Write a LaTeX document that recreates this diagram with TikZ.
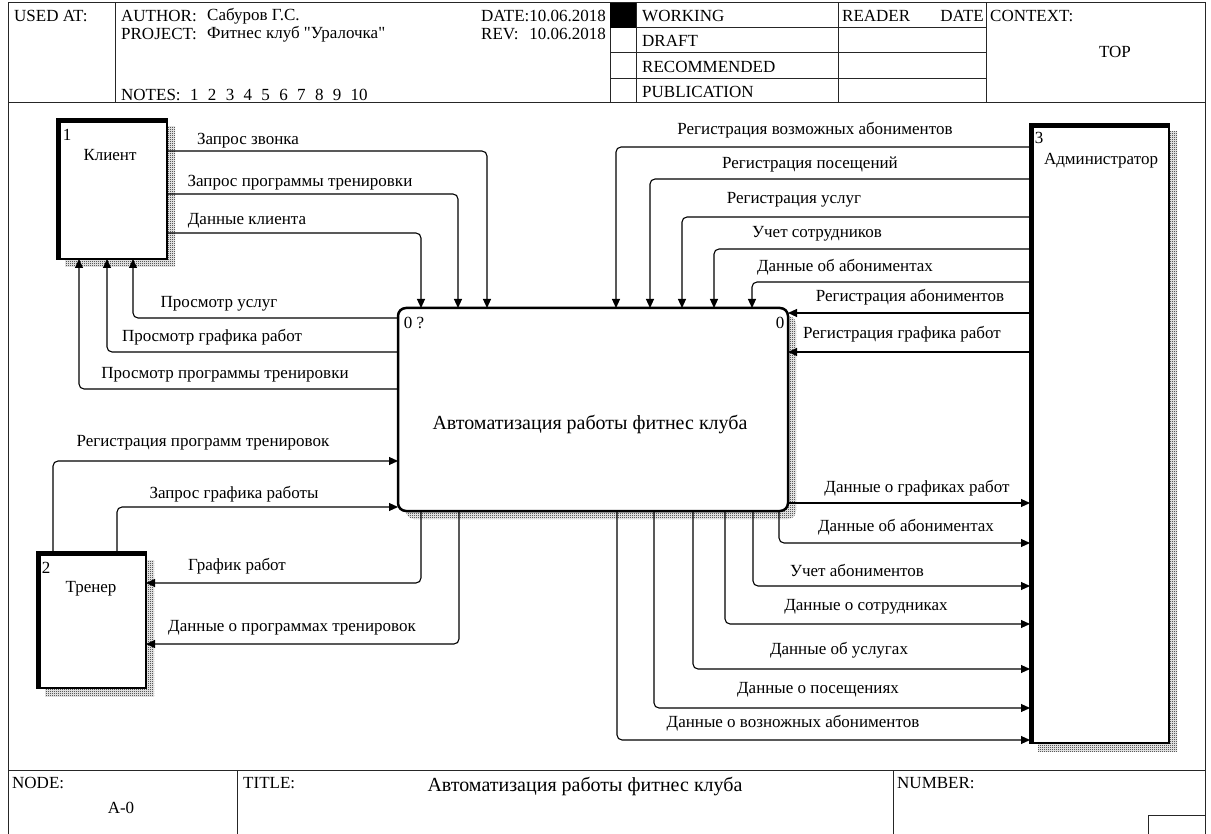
\documentclass[tikz,border=0pt]{standalone}
\usepackage{fontspec}
\setmainfont{Liberation Serif}
\usetikzlibrary{arrows.meta,patterns}

% straight double quote, set as a glyph so the TeX mapping leaves it alone
\newcommand\straightdq{\XeTeXglyph\XeTeXcharglyph"22\relax}

% fine checker used for the box shadows
\pgfdeclarepatternformonly{idefshade}{\pgfqpoint{0pt}{0pt}}{\pgfqpoint{2pt}{2pt}}{\pgfqpoint{2pt}{2pt}}{%
  \pgfpathrectangle{\pgfqpoint{0pt}{0pt}}{\pgfqpoint{1pt}{1pt}}%
  \pgfpathrectangle{\pgfqpoint{1pt}{1pt}}{\pgfqpoint{1pt}{1pt}}%
  \pgfusepath{fill}}

\tikzset{
  frameline/.style={line width=1pt, draw=black!85},
  hdr/.style={font=\fontsize{17}{20}\selectfont, inner sep=0pt, anchor=west},
  lbl/.style={font=\fontsize{17}{20}\selectfont, inner sep=0pt},
  bigtxt/.style={font=\fontsize{20}{24}\selectfont, inner sep=0pt},
  hatch/.style={preaction={draw=none, pattern=idefshade, pattern color=black,
                transform canvas={xshift=8pt,yshift=-8pt}}},
  extbox/.style={draw, fill=white, line width=2pt, outer sep=0pt, inner sep=0pt, hatch},
  actbox/.style={draw, fill=white, line width=2.5pt, rounded corners=8pt, outer sep=0pt, inner sep=0pt, hatch},
  heavyedge/.style={line width=5pt},
  flow/.style={draw, line width=1.1pt, rounded corners=5pt, -{Triangle[length=9pt,width=8pt]}},
}

\begin{document}
\begin{tikzpicture}[x=1pt,y=-1pt]
\useasboundingbox (0,0) rectangle (1211,834);

% ---------- form frame ----------
\draw[frameline] (8,838) -- (8,3) -- (1205,3) -- (1205,838);
\draw[frameline] (8,103) -- (1205,103);
\draw[frameline] (115,3) -- (115,103);
\draw[frameline] (610,3) -- (610,103);
\draw[frameline] (636,3) -- (636,103);
\draw[frameline] (838,3) -- (838,103);
\draw[frameline] (986,3) -- (986,103);
\foreach \yy in {28,53,79} \draw[frameline] (610,\yy) -- (986,\yy);
\fill[black] (610,3) rectangle (636,28);

\draw[frameline] (8,770) -- (1205,770);
\draw[frameline] (237,770) -- (237,838);
\draw[frameline] (893,770) -- (893,838);
\draw[frameline] (1148,838) -- (1148,815) -- (1205,815);

% ---------- header texts ----------
\node[hdr] (usedat) at (14,16) {USED AT:};
\node[hdr] (author) at (121,16) {AUTHOR:};
\node[hdr] (authorname) at (207,16) {Сабуров Г.С.};
\node[hdr] (project) at (121,34) {PROJECT:};
\node[hdr] (projectname) at (207,34) {Фитнес клуб \straightdq Уралочка\straightdq};
\node[hdr] (notes) at (121,95) {NOTES:\hspace{0.55em}1\hspace{0.55em}2\hspace{0.55em}3\hspace{0.55em}4\hspace{0.55em}5\hspace{0.55em}6\hspace{0.55em}7\hspace{0.55em}8\hspace{0.55em}9\hspace{0.55em}10};
\node[hdr] (date) at (481,16) {DATE:10.06.2018};
\node[hdr] (rev) at (481,34) {REV:};
\node[hdr, anchor=east] (revdate) at (606,34) {10.06.2018};
\node[hdr] (working) at (642,16) {WORKING};
\node[hdr] (draft) at (642,41) {DRAFT};
\node[hdr] (recommended) at (642,67) {RECOMMENDED};
\node[hdr] (publication) at (642,92) {PUBLICATION};
\node[hdr] (reader) at (842,16) {READER};
\node[hdr, anchor=east] (readerdate) at (984,16) {DATE};
\node[hdr] (context) at (990,16) {CONTEXT:};
\node[lbl] (top) at (1115,52) {TOP};

% ---------- footer texts ----------
\node[hdr] (nodelbl) at (12,783) {NODE:};
\node[lbl] (nodeid) at (121,808) {A-0};
\node[hdr] (titlelbl) at (243,783) {TITLE:};
\node[bigtxt] (titletxt) at (585,786) {Автоматизация работы фитнес клуба};
\node[hdr] (numberlbl) at (897,783) {NUMBER:};

% ---------- boxes ----------
\node[extbox, minimum width=110pt, minimum height=140pt] (klient) at (112,189) {};
\node[extbox, minimum width=109pt, minimum height=136pt] (trener) at (91.5,620) {};
\node[extbox, minimum width=139pt, minimum height=619pt] (admin) at (1099.5,433.5) {};
\node[actbox, minimum width=390pt, minimum height=203pt] (main) at (593,409.5) {};

\draw[heavyedge] ([xshift=1.5pt]klient.south west) -- ([xshift=1.5pt,yshift=-1.5pt]klient.north west) -- ([yshift=-1.5pt]klient.north east);
\draw[heavyedge] ([xshift=1.5pt]trener.south west) -- ([xshift=1.5pt,yshift=-1.5pt]trener.north west) -- ([yshift=-1.5pt]trener.north east);
\draw[heavyedge] ([xshift=1.5pt]admin.south west) -- ([xshift=1.5pt,yshift=-1.5pt]admin.north west) -- ([yshift=-1.5pt]admin.north east);

\node[lbl] (klientnum) at (67,135) {1};
\node[lbl] (klientname) at (110,155) {Клиент};
\node[lbl] (trenernum) at (46,568) {2};
\node[lbl] (trenername) at (91,589) {Тренер};
\node[lbl] (adminnum) at (1039,138) {3};
\node[lbl] (adminname) at (1101,161) {Администратор};
\node[lbl] (mainnum) at (414,323) {0 ?};
\node[lbl] (mainref) at (780,323) {0};
\node[bigtxt] (maintitle) at (590,425) {Автоматизация работы фитнес клуба};

% ---------- Клиент -> process ----------
\draw[flow] ([yshift=-32pt]klient.north east) -| ([xshift=89pt]main.north west);
\draw[flow] ([yshift=-75pt]klient.north east) -| ([xshift=60pt]main.north west);
\draw[flow] ([yshift=-114pt]klient.north east) -| ([xshift=23pt]main.north west);
\node[lbl] (f1) at (248,141) {Запрос звонка};
\node[lbl] (f2) at (300,183) {Запрос программы тренировки};
\node[lbl] (f3) at (247,221) {Данные клиента};

% ---------- process -> Клиент ----------
\draw[flow] ([yshift=-10pt]main.north west) -| ([xshift=76pt]klient.south west);
\draw[flow] ([yshift=-44pt]main.north west) -| ([xshift=50pt]klient.south west);
\draw[flow] ([yshift=-81pt]main.north west) -| ([xshift=22pt]klient.south west);
\node[lbl] (f4) at (219,304) {Просмотр услуг};
\node[lbl] (f5) at (212,337) {Просмотр графика работ};
\node[lbl] (f6) at (225,375) {Просмотр программы тренировки};

% ---------- Тренер -> process ----------
\draw[flow] ([xshift=16pt]trener.north west) |- ([yshift=-153pt]main.north west);
\draw[flow] ([xshift=80pt]trener.north west) |- ([yshift=-199pt]main.north west);
\node[lbl] (f7) at (203,443) {Регистрация программ тренировок};
\node[lbl] (f8) at (234,494) {Запрос графика работы};

% ---------- process -> Тренер ----------
\draw[flow] ([xshift=23pt]main.south west) |- ([yshift=-31pt]trener.north east);
\draw[flow] ([xshift=61pt]main.south west) |- ([yshift=-92pt]trener.north east);
\node[lbl] (f9) at (237,566) {График работ};
\node[lbl] (f10) at (292,628) {Данные о программах тренировок};

% ---------- Администратор -> process ----------
\draw[flow] ([yshift=-23pt]admin.north west) -| ([xshift=218pt]main.north west);
\draw[flow] ([yshift=-55pt]admin.north west) -| ([xshift=252pt]main.north west);
\draw[flow] ([yshift=-93pt]admin.north west) -| ([xshift=284pt]main.north west);
\draw[flow] ([yshift=-125pt]admin.north west) -| ([xshift=316pt]main.north west);
\draw[flow] ([yshift=-158pt]admin.north west) -| ([xshift=354pt]main.north west);
\draw[flow] ([yshift=-189pt]admin.north west) -- ([yshift=-5pt]main.north east);
\draw[flow] ([yshift=-228pt]admin.north west) -- ([yshift=-44pt]main.north east);
\node[lbl] (f11) at (815,130) {Регистрация возможных абониментов};
\node[lbl] (f12) at (810,164) {Регистрация посещений};
\node[lbl] (f13) at (794,200) {Регистрация услуг};
\node[lbl] (f14) at (817,234) {Учет сотрудников};
\node[lbl] (f15) at (845,267) {Данные об абониментах};
\node[lbl] (f16) at (910,297) {Регистрация абониментов};
\node[lbl] (f17) at (902,334) {Регистрация графика работ};

% ---------- process -> Администратор ----------
\draw[flow] ([yshift=-195pt]main.north east) -- ([yshift=-379pt]admin.north west);
\draw[flow] ([xshift=381pt]main.south west) |- ([yshift=-419pt]admin.north west);
\draw[flow] ([xshift=355pt]main.south west) |- ([yshift=-462pt]admin.north west);
\draw[flow] ([xshift=327pt]main.south west) |- ([yshift=-500pt]admin.north west);
\draw[flow] ([xshift=295pt]main.south west) |- ([yshift=-545pt]admin.north west);
\draw[flow] ([xshift=256pt]main.south west) |- ([yshift=-584pt]admin.north west);
\draw[flow] ([xshift=219pt]main.south west) |- ([yshift=-616pt]admin.north west);
\node[lbl] (f18) at (917,488) {Данные о графиках работ};
\node[lbl] (f19) at (906,527) {Данные об абониментах};
\node[lbl] (f20) at (857,570) {Учет абониментов};
\node[lbl] (f21) at (866,607) {Данные о сотрудниках};
\node[lbl] (f22) at (839,650) {Данные об услугах};
\node[lbl] (f23) at (818,690) {Данные о посещениях};
\node[lbl] (f24) at (793,723) {Данные о возножных абониментов};
\end{tikzpicture}
\end{document}
